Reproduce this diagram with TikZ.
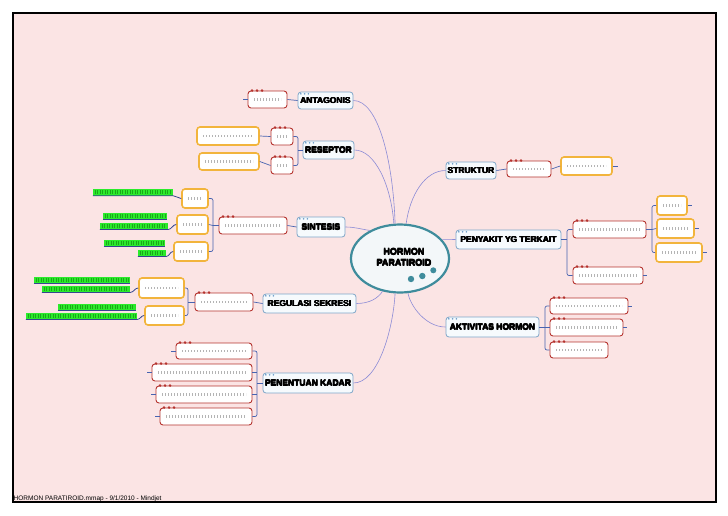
\documentclass[tikz,border=0pt]{standalone}
\usepackage{fontspec}
\setmainfont{Liberation Sans}
\newfontfamily\topicfont{Liberation Sans}
\usetikzlibrary{shapes.geometric}
\definecolor{bgpink}{HTML}{FBE4E4}
\definecolor{topicb}{HTML}{7EA6C8}
\definecolor{topicf}{HTML}{F6FAFD}
\definecolor{subr}{HTML}{B5332E}
\definecolor{leafc}{HTML}{F2B43C}
\definecolor{hubc}{HTML}{3F8C9C}
\definecolor{hubf}{HTML}{F3F7F9}
\definecolor{connc}{HTML}{8C8CD6}
\definecolor{brcol}{HTML}{4763B0}
\definecolor{ulcol}{HTML}{34468F}
\definecolor{hlgreen}{HTML}{2BEB2B}
\definecolor{hlmark}{HTML}{1AA81A}
\definecolor{ftxtc}{HTML}{B4B4B4}
\definecolor{dotb}{HTML}{6A9AC8}
\newcommand\heavy[1]{\leavevmode\rlap{#1}\rlap{\hspace{0.45pt}#1}\rlap{\raisebox{0.3pt}{#1}}\hspace{0.45pt}\raisebox{0.3pt}{#1}}
\newcommand\rdots[1]{\foreach \i in {0,1,2}{\fill[subr] ([xshift=4.5pt+\i*5pt]#1.north west) circle (1.4pt);}}
\newcommand\bdots[1]{\foreach \i in {0,1,2}{\fill[dotb] ([xshift=3.2pt+\i*3.8pt,yshift=-2.2pt]#1.north west) circle (0.9pt);}}
\begin{document}
\begin{tikzpicture}[x=1pt,y=-1pt,
  ftxt/.style={draw=ftxtc, line width=2.8pt, dash pattern=on 0.6pt off 2.4pt},
  gtxt/.style={draw=hlmark, line width=4pt, dash pattern=on 0.8pt off 1.7pt},
  topic/.style={draw=topicb, fill=topicf, rounded corners=3pt, line width=0.8pt, inner sep=0pt,
    font=\topicfont\bfseries\fontsize{8.5}{10}\selectfont, text=black},
  sub/.style={draw=subr, fill=white, rounded corners=3pt, line width=0.9pt, inner sep=0pt,
    path picture={\draw[ftxt] ([xshift=6pt]path picture bounding box.west) -- ([xshift=-6pt]path picture bounding box.east);}},
  leaf/.style={draw=leafc, fill=white, rounded corners=3pt, line width=1.6pt, inner sep=0pt,
    path picture={\draw[ftxt] ([xshift=6pt]path picture bounding box.west) -- ([xshift=-6pt]path picture bounding box.east);}},
  gbar/.style={fill=hlgreen, inner sep=0pt, minimum height=6.5pt,
    path picture={\draw[gtxt] ([xshift=1.5pt]path picture bounding box.west) -- ([xshift=-1.5pt]path picture bounding box.east);}},
  conn/.style={draw=connc, line width=0.6pt},
  brc/.style={draw=brcol, line width=0.7pt},
  ul/.style={draw=ulcol, line width=0.8pt},
  rnd/.style={rounded corners=2pt}
]
\useasboundingbox (0,0) rectangle (728,515);
\fill[white] (0,0) rectangle (728,515);
\draw[fill=bgpink, line width=1.2pt] (13,13) rectangle (716,502);

% central node
\node[ellipse, draw=hubc, fill=hubf, line width=2.2pt, minimum width=98pt, minimum height=68pt] (C) at (400,258.5) {};
\node[font=\topicfont\bfseries\fontsize{9}{11}\selectfont, align=center, inner sep=0pt, text=black] (Ct) at (404,257.5) {\heavy{HORMON}\\\heavy{PARATIROID}};
\fill[hubc] (411,279) circle (3.2pt) (422.3,276) circle (3.2pt) (433.3,270.3) circle (3pt);

% main topics
\node[topic, minimum width=55pt, minimum height=17pt] (A) at (325.5,100.5) {\heavy{ANTAGONIS}};
\node[topic, minimum width=51pt, minimum height=18pt] (R) at (328.5,150) {\heavy{RESEPTOR}};
\node[topic, minimum width=50pt, minimum height=17pt] (S) at (471,170.5) {\heavy{STRUKTUR}};
\node[topic, minimum width=105pt, minimum height=19pt] (P) at (508.5,239.5) {\heavy{PENYAKIT YG TERKAIT}};
\node[topic, minimum width=48pt, minimum height=20pt] (Si) at (321,227) {\heavy{SINTESIS}};
\node[topic, minimum width=93pt, minimum height=19pt] (Rg) at (309.5,303.5) {\heavy{REGULASI SEKRESI}};
\node[topic, minimum width=90pt, minimum height=20pt] (Pn) at (308,383) {\heavy{PENENTUAN KADAR}};
\node[topic, minimum width=93pt, minimum height=20pt] (Ak) at (492.5,327) {\heavy{AKTIVITAS HORMON}};
\foreach \n in {A,R,S,P,Si,Rg,Pn,Ak}{\bdots{\n}}

% subtopics
\node[sub, minimum width=39pt, minimum height=17pt] (a1) at (267.5,99.5) {};
\node[sub, minimum width=22pt, minimum height=17pt] (r1) at (282,136.5) {};
\node[sub, minimum width=22pt, minimum height=17pt] (r2) at (282,165.5) {};
\node[sub, minimum width=44pt, minimum height=16pt] (s1) at (529,169) {};
\node[sub, minimum width=73pt, minimum height=17pt] (p1) at (609.5,229.5) {};
\node[sub, minimum width=70pt, minimum height=17pt] (p2) at (608,275.5) {};
\node[sub, minimum width=68pt, minimum height=17pt] (si1) at (253,225.5) {};
\node[sub, minimum width=58pt, minimum height=18pt] (rg1) at (224,302) {};
\node[sub, minimum width=76pt, minimum height=16pt] (n1) at (214,351) {};
\node[sub, minimum width=100pt, minimum height=17pt] (n2) at (202,372.5) {};
\node[sub, minimum width=96pt, minimum height=17pt] (n3) at (204,394.5) {};
\node[sub, minimum width=92pt, minimum height=17pt] (n4) at (206,416.5) {};
\node[sub, minimum width=78pt, minimum height=16pt] (k1) at (589,306) {};
\node[sub, minimum width=73pt, minimum height=17pt] (k2) at (586.5,327.5) {};
\node[sub, minimum width=58pt, minimum height=16pt] (k3) at (579,350) {};
\foreach \n in {a1,r1,r2,s1,p1,p2,si1,rg1,n1,n2,n3,n4,k1,k2,k3}{\rdots{\n}}

% leaves
\node[leaf, minimum width=62pt, minimum height=18pt] (y1) at (228,136) {};
\node[leaf, minimum width=60pt, minimum height=17pt] (y2) at (229,161.5) {};
\node[leaf, minimum width=51pt, minimum height=18pt] (s2) at (586.5,166) {};
\node[leaf, minimum width=30pt, minimum height=19pt] (q1) at (672,205.5) {};
\node[leaf, minimum width=37pt, minimum height=19pt] (q2) at (675.5,228.5) {};
\node[leaf, minimum width=46pt, minimum height=19pt] (q3) at (679,252.5) {};
\node[leaf, minimum width=26pt, minimum height=19pt] (g1) at (195,198.5) {};
\node[leaf, minimum width=31pt, minimum height=19pt] (g2) at (192.5,224.5) {};
\node[leaf, minimum width=34pt, minimum height=19pt] (g3) at (191,251.5) {};
\node[leaf, minimum width=45pt, minimum height=20pt] (h1) at (161.5,288) {};
\node[leaf, minimum width=39pt, minimum height=19pt] (h2) at (164.5,315.5) {};

% green highlighted notes
\node[gbar, minimum width=80pt] (g1a) at (133,192.3) {};
\node[gbar, minimum width=64pt] (g2a) at (135,216) {};
\node[gbar, minimum width=68pt] (g2b) at (134,226) {};
\node[gbar, minimum width=61pt] (g3a) at (134.5,243) {};
\node[gbar, minimum width=28pt] (g3b) at (152,253) {};
\node[gbar, minimum width=96pt] (h1a) at (82,280) {};
\node[gbar, minimum width=88pt] (h1b) at (86,289) {};
\node[gbar, minimum width=78pt] (h2a) at (97,307) {};
\node[gbar, minimum width=111pt] (h2b) at (81.5,316) {};
\foreach \n in {g2a,g3a,h1a,h2a}{\draw[ul] (\n.south west) -- (\n.south east);}
\draw[ul] (g1a.south west) -- (g1a.south east) to[out=0,in=180] (g1.west);
\draw[ul] (g2b.south west) -- (g2b.south east) to[out=0,in=180] (g2.west);
\draw[ul] (g3b.south west) -- (g3b.south east) to[out=0,in=180] (g3.west);
\draw[ul] (h1b.south west) -- (h1b.south east) to[out=0,in=180] (h1.west);
\draw[ul] (h2b.south west) -- (h2b.south east) to[out=0,in=180] (h2.west);

% junction coordinates
\coordinate (Rj) at (298,150);
\coordinate (Pj) at (567,239.5);
\coordinate (Qj) at (652,229.5);
\coordinate (Gj) at (213,225.5);
\coordinate (Hj) at (188,302);
\coordinate (Nj) at (257,383);
\coordinate (Kj) at (545,327);

% branch connectors
\draw[brc] (a1.east) -- (A.west);
\draw[brc] (a1.west) -- ++(-5,0);
\draw[brc] (R.west) -- (Rj);
\draw[brc, rnd] (r1.east) -| (Rj) |- (r2.east);
\draw[brc] (y1.east) -- (r1.west);
\draw[brc] (y2.east) -- (r2.west);
\draw[brc] (S.east) -- (s1.west);
\draw[brc] (s1.east) -- (s2.west);
\draw[brc] (s2.east) -- ++(5,0);
\draw[brc] (P.east) -- (Pj);
\draw[brc, rnd] (p1.west) -| (Pj) |- (p2.west);
\draw[brc] (p1.east) -- (Qj);
\draw[brc, rnd] (q1.west) -| (Qj) |- (q3.west);
\draw[brc] (Qj) -- (q2.west);
\foreach \n in {q1,q2,q3,p2,k1,k2}{\draw[brc] (\n.east) -- ++(4,0);}
\draw[brc] (si1.east) -- (Si.west);
\draw[brc] (si1.west) -- (Gj);
\draw[brc, rnd] (g1.east) -| (Gj) |- (g3.east);
\draw[brc] (g2.east) -- (Gj);
\draw[brc] (rg1.east) -- (Rg.west);
\draw[brc] (rg1.west) -- (Hj);
\draw[brc, rnd] (h1.east) -| (Hj) |- (h2.east);
\draw[brc] (Pn.west) -- (Nj);
\draw[brc, rnd] (n1.east) -| (Nj) |- (n4.east);
\draw[brc] (n2.east) -- (Nj |- n2.east);
\draw[brc] (n3.east) -- (Nj |- n3.east);
\foreach \n in {n1,n2,n3,n4}{\draw[brc] (\n.west) -- ++(-5,0);}
\draw[brc] (Ak.east) -- (Kj);
\draw[brc, rnd] (k1.west) -| (Kj) |- (k3.west);
\draw[brc] (k2.west) -- (Kj |- k2.west);

% main connectors
\draw[conn] (A.east) .. controls (378,100.5) and (393,160) .. (C.98);
\draw[conn] (R.east) .. controls (375,150) and (391,185) .. (C.100);
\draw[conn] (S.west) .. controls (425,170.5) and (410,195) .. (C.80);
\draw[conn] (P.west) -- (C.24);
\draw[conn] (Si.east) .. controls (355,227) and (360,229) .. (C.137);
\draw[conn] (Rg.east) .. controls (370,303.5) and (378,298) .. (C.242);
\draw[conn] (Pn.east) .. controls (378,383) and (393,330) .. (C.262);
\draw[conn] (Ak.west) .. controls (425,327) and (410,305) .. (C.283);

% footer
\node[anchor=base west, font=\fontsize{6.5}{7}\selectfont, inner sep=0pt] (ft) at (13.5,500) {HORMON PARATIROID.mmap - 9/1/2010 - Mindjet};
\end{tikzpicture}
\end{document}
